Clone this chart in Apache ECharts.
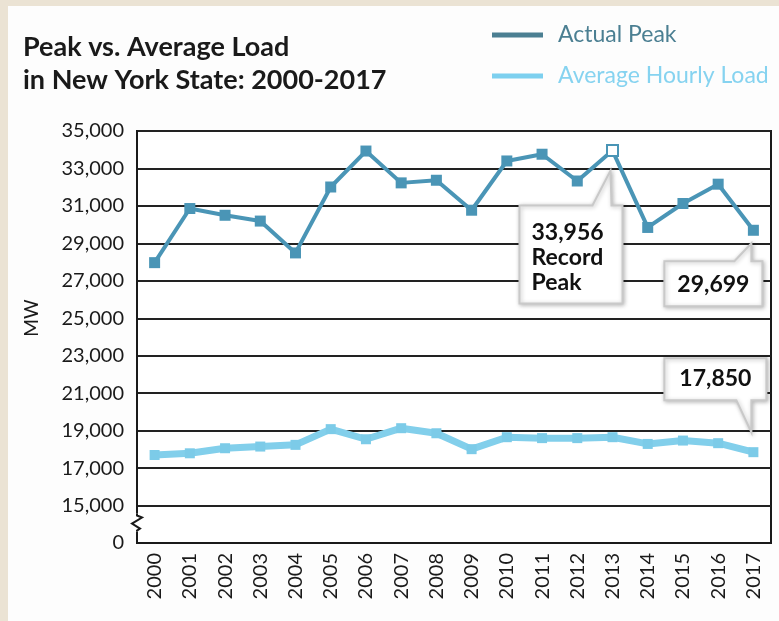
<!DOCTYPE html>
<html>
<head>
<meta charset="utf-8">
<script src="https://cdn.jsdelivr.net/npm/echarts@6/dist/echarts.min.js"></script>
<style>
  html, body { margin: 0; padding: 0; background: #ebe3d4; }
  #panel { position: absolute; left: 8px; top: 6px; right: 0; bottom: 0; background: #fdfdfd; }
  #chart { position: absolute; left: 0; top: 0; width: 779px; height: 621px; }
</style>
</head>
<body>
<div id="panel"></div>
<div id="chart"></div>
<script>
// Years on the category axis
const years = ['2000','2001','2002','2003','2004','2005','2006','2007','2008',
               '2009','2010','2011','2012','2013','2014','2015','2016','2017'];

// Annual peak load, MW
const actualPeak = [27970, 30860, 30500, 30190, 28490, 32010, 33930, 32230, 32370,
                    30770, 33400, 33760, 32330, 33956, 29850, 31130, 32160, 29699];

// Average hourly load, MW
const avgHourlyLoad = [17700, 17790, 18060, 18150, 18240, 19080, 18540, 19130, 18860,
                       18010, 18650, 18600, 18600, 18650, 18290, 18470, 18330, 17850];

// Value axis: the lowest tick stands for zero (axis is broken below 15,000)
const yMin = 13000, yMax = 35000, yStep = 2000;
const brokenTickLabel = '0';

const FONT = 'Lato, "Noto Sans", sans-serif';
const fmt = v => v.toLocaleString('en-US');

const recordIdx = actualPeak.indexOf(Math.max(...actualPeak));
const lastIdx = years.length - 1;

const chart = echarts.init(document.getElementById('chart'), null, { renderer: 'canvas' });

chart.setOption({
  animation: false,
  backgroundColor: 'transparent',
  textStyle: { fontFamily: FONT },
  title: {
    text: 'Peak vs. Average Load\nin New York State: 2000-2017',
    left: 18, top: 26,
    textStyle: { fontFamily: FONT, fontSize: 27, fontWeight: 'bold', color: '#1a1a1a', lineHeight: 33 }
  },
  legend: {
    orient: 'vertical',
    left: 487, top: 16,
    icon: 'rect',
    itemWidth: 51, itemHeight: 5, itemGap: 13,
    textStyle: { fontFamily: FONT, fontSize: 23, lineHeight: 28, padding: [0, 0, 0, 10] },
    data: [
      { name: 'Actual Peak', itemStyle: { color: '#4b7f92' }, textStyle: { color: '#4b7f92' } },
      { name: 'Average Hourly Load', itemStyle: { color: '#7dd0ef' }, textStyle: { color: '#86d3f0' } }
    ]
  },
  grid: {
    left: 137, right: 8, top: 131, bottom: 78,
    show: true, backgroundColor: '#ffffff', borderColor: '#1a1a1a', borderWidth: 2
  },
  xAxis: {
    type: 'category',
    data: years,
    boundaryGap: true,
    axisLine: { show: true, lineStyle: { color: '#1a1a1a', width: 2 } },
    axisTick: { show: false },
    axisLabel: { rotate: 90, margin: 10, fontSize: 20, color: '#1a1a1a', fontFamily: FONT }
  },
  yAxis: {
    type: 'value',
    min: yMin, max: yMax, interval: yStep,
    axisLine: { show: true, lineStyle: { color: '#1a1a1a', width: 2 } },
    axisTick: { show: false },
    axisLabel: {
      margin: 13, fontSize: 20, color: '#1a1a1a', fontFamily: FONT,
      formatter: v => (v === yMin ? brokenTickLabel : fmt(v))
    },
    splitLine: { show: true, lineStyle: { color: '#222222', width: 2 } }
  },
  series: [
    {
      name: 'Actual Peak',
      type: 'line',
      z: 4,
      symbol: 'rect',
      symbolSize: 11,
      lineStyle: { width: 4, color: '#4a95b6' },
      itemStyle: { color: '#4a95b6' },
      data: actualPeak.map((v, i) => i === recordIdx
        ? { value: v, symbolSize: 11, itemStyle: { color: '#ffffff', borderColor: '#4a95b6', borderWidth: 2 } }
        : v)
    },
    {
      name: 'Average Hourly Load',
      type: 'line',
      z: 3,
      symbol: 'rect',
      symbolSize: 10,
      lineStyle: { width: 7, color: '#82cfeb' },
      itemStyle: { color: '#7ccbe8' },
      data: avgHourlyLoad
    }
  ]
});

// Callout boxes with a pointer wedge toward the annotated point
function callout(seriesIndex, idx, lines, box, textPos, textAlign) {
  const value = seriesIndex === 0 ? actualPeak[idx] : avgHourlyLoad[idx];
  const [ax, ay] = chart.convertToPixel({ seriesIndex }, [idx, value]);
  const L = ax + box.l, R = ax + box.r, T = ay + box.t, B = ay + box.b;
  const w0 = ax + box.w0, w1 = ax + box.w1, tx = ax + box.tip[0], ty = ay + box.tip[1];
  const pts = box.wedgeOnTop
    ? [[L, T], [w0, T], [tx, ty], [w1, T], [R, T], [R, B], [L, B]]
    : [[L, T], [R, T], [R, B], [w1, B], [tx, ty], [w0, B], [L, B]];
  return [
    {
      type: 'polygon', z: 50,
      shape: { points: pts },
      style: {
        fill: '#ffffff', stroke: '#c9c9c9', lineWidth: 2,
        shadowBlur: 4, shadowColor: 'rgba(0,0,0,0.25)', shadowOffsetX: 1, shadowOffsetY: 1
      }
    },
    {
      type: 'text', z: 51,
      x: ax + textPos[0], y: ay + textPos[1],
      style: {
        text: lines.join('\n'),
        font: 'bold 23px ' + FONT,
        lineHeight: 25,
        fill: '#111111',
        align: textAlign,
        verticalAlign: 'top'
      }
    }
  ];
}

// Break mark on the value axis between 0 and 15,000
const y15 = chart.convertToPixel({ gridIndex: 0 }, [0, 15000])[1];
const xLeft = chart.getModel().getComponent('grid').coordinateSystem.getRect().x;

const graphics = [
  {
    type: 'rect', z: 40,
    shape: { x: xLeft - 4, y: y15 + 8, width: 8, height: 18 },
    style: { fill: '#ffffff' }
  },
  {
    type: 'polyline', z: 41,
    shape: { points: [[xLeft, y15 + 8], [xLeft, y15 + 10], [xLeft + 5, y15 + 12], [xLeft - 5, y15 + 18],
                      [xLeft + 3, y15 + 23], [xLeft, y15 + 25], [xLeft, y15 + 26]] },
    style: { stroke: '#1a1a1a', lineWidth: 2, fill: null }
  },
  {
    type: 'text', z: 41,
    x: 32, y: 318, rotation: Math.PI / 2,
    style: { text: 'MW', font: '19px ' + FONT, fill: '#1a1a1a', align: 'center', verticalAlign: 'middle' }
  }
];

graphics.push(...callout(0, recordIdx, [fmt(actualPeak[recordIdx]), 'Record', 'Peak'],
  { l: -93, r: 10, t: 55, b: 153, w0: -20, w1: -1, tip: [-2, 20], wedgeOnTop: true },
  [-81, 70], 'left'));
graphics.push(...callout(0, lastIdx, [fmt(actualPeak[lastIdx])],
  { l: -89, r: 9, t: 31, b: 76, w0: -19, w1: -2, tip: [-2, 13], wedgeOnTop: true },
  [-40, 42], 'center'));
graphics.push(...callout(1, lastIdx, [fmt(avgHourlyLoad[lastIdx])],
  { l: -89, r: 13, t: -94, b: -52, w0: -17, w1: -2, tip: [-2, -20], wedgeOnTop: false },
  [-38, -86], 'center'));

chart.setOption({ graphic: graphics });
</script>
</body>
</html>
